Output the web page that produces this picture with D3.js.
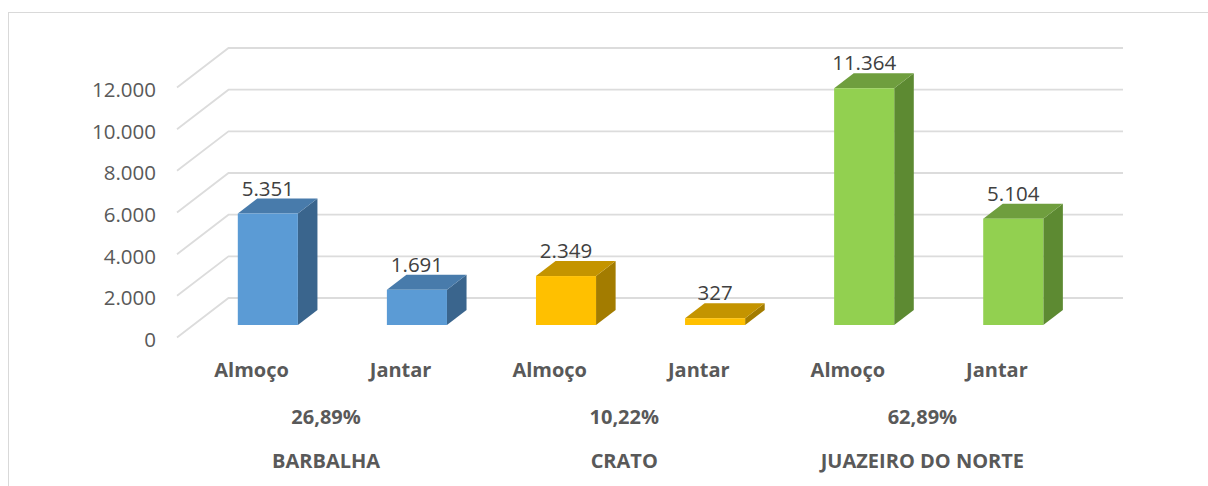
<!DOCTYPE html>
<html>
<head>
<meta charset="utf-8">
<script src="https://cdn.jsdelivr.net/npm/d3@7"></script>
<style>
  html, body { margin: 0; padding: 0; background: #fff; }
  svg { display: block; }
</style>
</head>
<body>
<svg id="chart" width="1208" height="486"></svg>
<script>
// ---- data ----
const cities = ["BARBALHA", "CRATO", "JUAZEIRO DO NORTE"];
const cityShares = ["26,89%", "10,22%", "62,89%"];
const meals = ["Almoço", "Jantar"];
const almoco = [5351, 2349, 11364];
const jantar = [1691, 327, 5104];
const yTicks = [0, 2000, 4000, 6000, 8000, 10000, 12000];
const cityColors = [
  { front: "#5B9BD5", top: "#487BAB", side: "#3A658D" },
  { front: "#FFC000", top: "#C49400", side: "#A37C00" },
  { front: "#92D050", top: "#6F9E3E", side: "#5D8A32" }
];

// flat category list built from the arrays
const cats = [];
cities.forEach((c, ci) => {
  meals.forEach((m, mi) => {
    cats.push({ id: ci + "-" + mi, city: ci, meal: m, value: mi === 0 ? almoco[ci] : jantar[ci] });
  });
});

const svg = d3.select("#chart");
const locale = d3.formatLocale({ decimal: ",", thousands: ".", grouping: [3], currency: ["", ""] });
const fmt = locale.format(",d");

// 3D geometry: front plane + depth offset
const DX = 51.5, DY = 39.5;
const fFront = 0.3165, fDepth = 0.38;

const x = d3.scaleBand().domain(cats.map(d => d.id)).range([177, 1071.5]).paddingInner(0).paddingOuter(0);
const y = d3.scaleLinear().domain([0, 12000]).range([337.5, 87.5]);
const barW = x.bandwidth() * 0.403;

// outer border
svg.append("rect").attr("x", 8.5).attr("y", 12.5).attr("width", 1220).attr("height", 490)
  .attr("fill", "none").attr("stroke", "#d9d9d9").attr("stroke-width", 1);

// gridlines: diagonal on the floor side + horizontal on back wall
const grid = svg.append("g").attr("stroke", "#dcdcdc").attr("stroke-width", 1.8).attr("fill", "none");
const x0 = x.range()[0], x1 = x.range()[1];
yTicks.forEach(t => {
  const yf = y(t);
  grid.append("path").attr("d", `M${x0},${yf}L${x0 + DX},${yf - DY}L${x1 + DX},${yf - DY}`);
});

// y axis labels
svg.append("g").selectAll("text").data(yTicks).join("text")
  .attr("x", 156).attr("y", d => y(d) + 1.5)
  .attr("text-anchor", "end").attr("dominant-baseline", "central")
  .attr("font-family", "'Open Sans', sans-serif").attr("font-size", 20.5)
  .attr("fill", "#595959").text(d => fmt(d));

// bars
const bars = svg.append("g");
cats.forEach(d => {
  const col = cityColors[d.city];
  const xl = x(d.id) + (x.bandwidth() - barW) / 2 + fFront * DX;
  const xr = xl + barW;
  const yb = y(0) - fFront * DY;
  const yt = y(d.value) - fFront * DY;
  const dx = fDepth * DX, dy = fDepth * DY;
  const g = bars.append("g");
  g.append("path").attr("d", `M${xr},${yt}L${xr + dx},${yt - dy}L${xr + dx},${yb - dy}L${xr},${yb}Z`).attr("fill", col.side);
  g.append("path").attr("d", `M${xl},${yt}L${xr},${yt}L${xr + dx},${yt - dy}L${xl + dx},${yt - dy}Z`).attr("fill", col.top);
  g.append("rect").attr("x", xl).attr("y", yt).attr("width", barW).attr("height", yb - yt).attr("fill", col.front);
  // data label
  g.append("text").attr("x", xl + barW / 2).attr("y", yt - dy - 3)
    .attr("text-anchor", "middle")
    .attr("font-family", "'Open Sans', sans-serif").attr("font-size", 20.5)
    .attr("fill", "#404040").text(fmt(d.value));
});

// category labels
const lab = svg.append("g").attr("font-family", "'Open Sans', sans-serif").attr("font-weight", "bold")
  .attr("font-size", 20).attr("fill", "#595959").attr("text-anchor", "middle");
cats.forEach(d => {
  lab.append("text").attr("x", x(d.id) + x.bandwidth() / 2).attr("y", 376.7).text(d.meal);
});
cities.forEach((c, ci) => {
  const a = x(ci + "-0") + x.bandwidth() / 2;
  const b = x(ci + "-1") + x.bandwidth() / 2;
  const cx = (a + b) / 2;
  lab.append("text").attr("x", cx).attr("y", 424).text(cityShares[ci]);
  lab.append("text").attr("x", cx).attr("y", 468.3).text(c);
});
</script>
</body>
</html>
